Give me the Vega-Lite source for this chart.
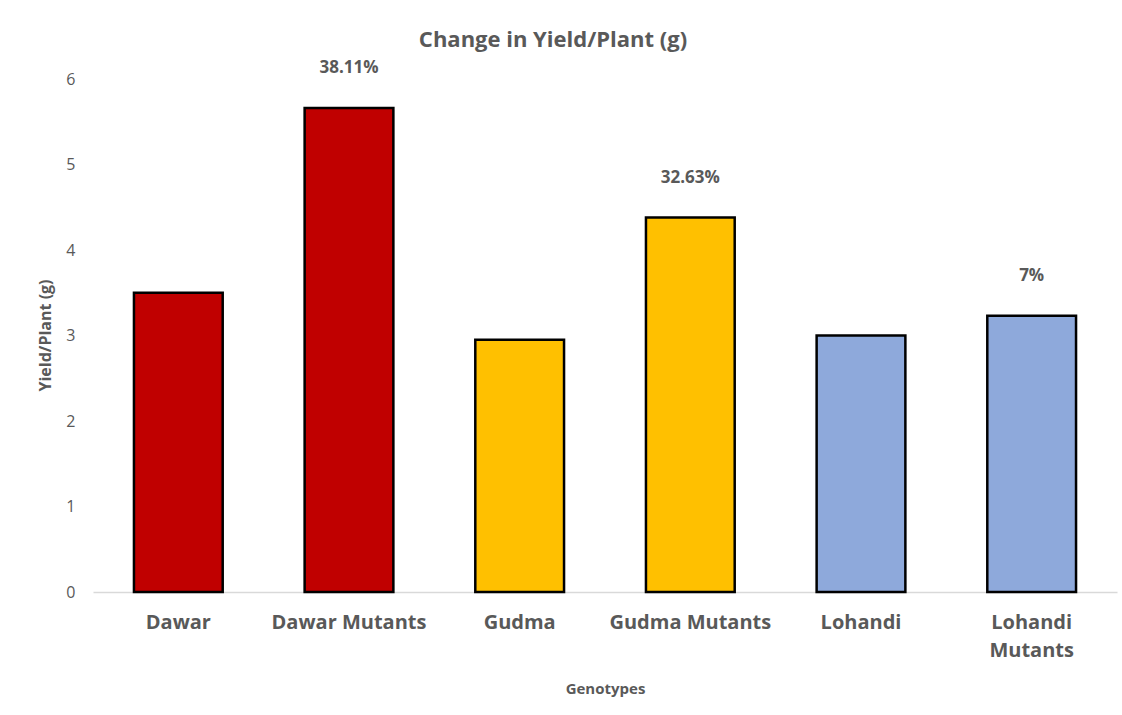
{
  "$schema": "https://vega.github.io/schema/vega-lite/v6.json",
  "autosize": {"type": "none"},
  "width": 1024,
  "height": 513,
  "padding": {"left": 93, "top": 79, "right": 5, "bottom": 123},
  "background": "white",
  "config": {
    "font": "Open Sans",
    "view": {"stroke": null}
  },
  "title": {
    "text": "Change in Yield/Plant (g)",
    "anchor": "middle",
    "frame": "group",
    "dx": -52,
    "offset": 7,
    "fontSize": 22,
    "fontWeight": "bold",
    "color": "#595959"
  },
  "data": {
    "values": [
      {"genotype": "Dawar", "yield": 3.5, "variety": "Dawar", "change": ""},
      {"genotype": "Dawar Mutants", "yield": 5.66, "variety": "Dawar", "change": "38.11%"},
      {"genotype": "Gudma", "yield": 2.95, "variety": "Gudma", "change": ""},
      {"genotype": "Gudma Mutants", "yield": 4.38, "variety": "Gudma", "change": "32.63%"},
      {"genotype": "Lohandi", "yield": 3.0, "variety": "Lohandi", "change": ""},
      {"genotype": "Lohandi Mutants", "yield": 3.23, "variety": "Lohandi", "change": "7%"}
    ]
  },
  "encoding": {
    "x": {
      "field": "genotype",
      "type": "nominal",
      "sort": null,
      "scale": {"paddingInner": 0.48, "paddingOuter": 0.24},
      "axis": {
        "title": "Genotypes",
        "titleFontSize": 15,
        "titleFontWeight": "bold",
        "titleColor": "#595959",
        "titleY": 96,
        "titleBaseline": "middle",
        "labelAngle": 0,
        "labelFontSize": 20,
        "labelFontWeight": "bold",
        "labelColor": "#595959",
        "labelPadding": 20,
        "labelLineHeight": 28,
        "labelExpr": "datum.label == 'Lohandi Mutants' ? ['Lohandi', 'Mutants'] : datum.label",
        "ticks": false,
        "domainColor": "#d9d9d9",
        "domainWidth": 1.5
      }
    },
    "y": {
      "field": "yield",
      "type": "quantitative",
      "scale": {"domain": [0, 6], "nice": false},
      "axis": {
        "title": "Yield/Plant (g)",
        "titleFontSize": 16,
        "titleFontWeight": "bold",
        "titleColor": "#595959",
        "titleX": -48,
        "titleY": 256,
        "titleAngle": 270,
        "titleBaseline": "middle",
        "titleAlign": "center",
        "values": [0, 1, 2, 3, 4, 5, 6],
        "labelFontSize": 16,
        "labelColor": "#595959",
        "labelPadding": 18,
        "ticks": false,
        "domain": false,
        "grid": false
      }
    }
  },
  "layer": [
    {
      "mark": {"type": "bar", "stroke": "black", "strokeWidth": 2.5},
      "encoding": {
        "color": {
          "field": "variety",
          "type": "nominal",
          "scale": {"domain": ["Dawar", "Gudma", "Lohandi"], "range": ["#C00000", "#FFC000", "#8EA9DB"]},
          "legend": null
        }
      }
    },
    {
      "mark": {"type": "text", "dy": -40, "baseline": "middle", "fontSize": 17, "fontWeight": "bold", "color": "#595959"},
      "encoding": {
        "text": {"field": "change", "type": "nominal"}
      }
    }
  ]
}
